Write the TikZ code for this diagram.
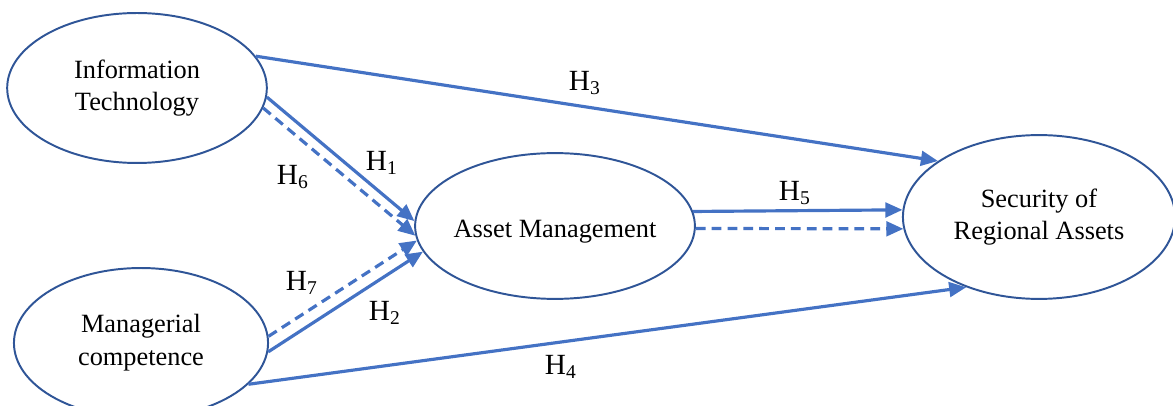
\documentclass[tikz,border=0pt]{standalone}
\usepackage{fontspec}
\setmainfont{Liberation Serif}
\usetikzlibrary{arrows.meta,shapes.geometric}
\definecolor{PathBlue}{HTML}{4472C4}
\definecolor{RingBlue}{HTML}{2F5597}
\tikzset{
  construct/.style={ellipse,draw=RingBlue,line width=0.8pt,align=center,
    inner sep=-4pt,font=\fontsize{10.8}{13.4}\selectfont},
  hypo/.style={PathBlue,line width=1.3pt,-{Triangle[length=7pt,width=6pt]}},
  hypodash/.style={hypo,dash pattern=on 4pt off 2.5pt},
  hlabel/.style={inner sep=0pt,font=\fontsize{12}{14}\selectfont}
}
\begin{document}
\begin{tikzpicture}[x=0.0144cm,y=-0.0144cm]
\path[use as bounding box] (0,0) rectangle (1173,406);
\node[construct,minimum width=3.74cm,minimum height=2.16cm] (it) at (137,88)
      {Information\\Technology};
\node[construct,minimum width=3.66cm,minimum height=2.16cm] (mc) at (141,343)
      {Managerial\\competence};
\node[construct,minimum width=4.03cm,minimum height=2.10cm,text height=12pt]
      (am) at (555,226) {Asset Management};
\node[construct,minimum width=3.92cm,minimum height=2.36cm] (sra) at (1039,217)
      {Security of\\Regional Assets};
\draw[hypo] (it.15) -- (sra.151);
\draw[hypo] (it.-4.5) -- (am.178);
\draw[hypodash] (it.-9.5) -- (am.184);
\draw[hypodash] (mc.3) -- (am.186);
\draw[hypo] (mc.-4) -- (am.191);
\draw[hypo] (mc.-21) -- (sra.224);
\draw[hypo] (am.6) -- (sra.177);
\draw[hypodash] (am.-1) -- (sra.185);
\node[hlabel] (h1) at (382,163) {H\textsubscript{1}};
\node[hlabel] (h2) at (385,313) {H\textsubscript{2}};
\node[hlabel] (h3) at (585,83) {H\textsubscript{3}};
\node[hlabel] (h4) at (561,367) {H\textsubscript{4}};
\node[hlabel] (h5) at (795,193) {H\textsubscript{5}};
\node[hlabel] (h6) at (293,177) {H\textsubscript{6}};
\node[hlabel] (h7) at (302,283) {H\textsubscript{7}};
\end{tikzpicture}
\end{document}
